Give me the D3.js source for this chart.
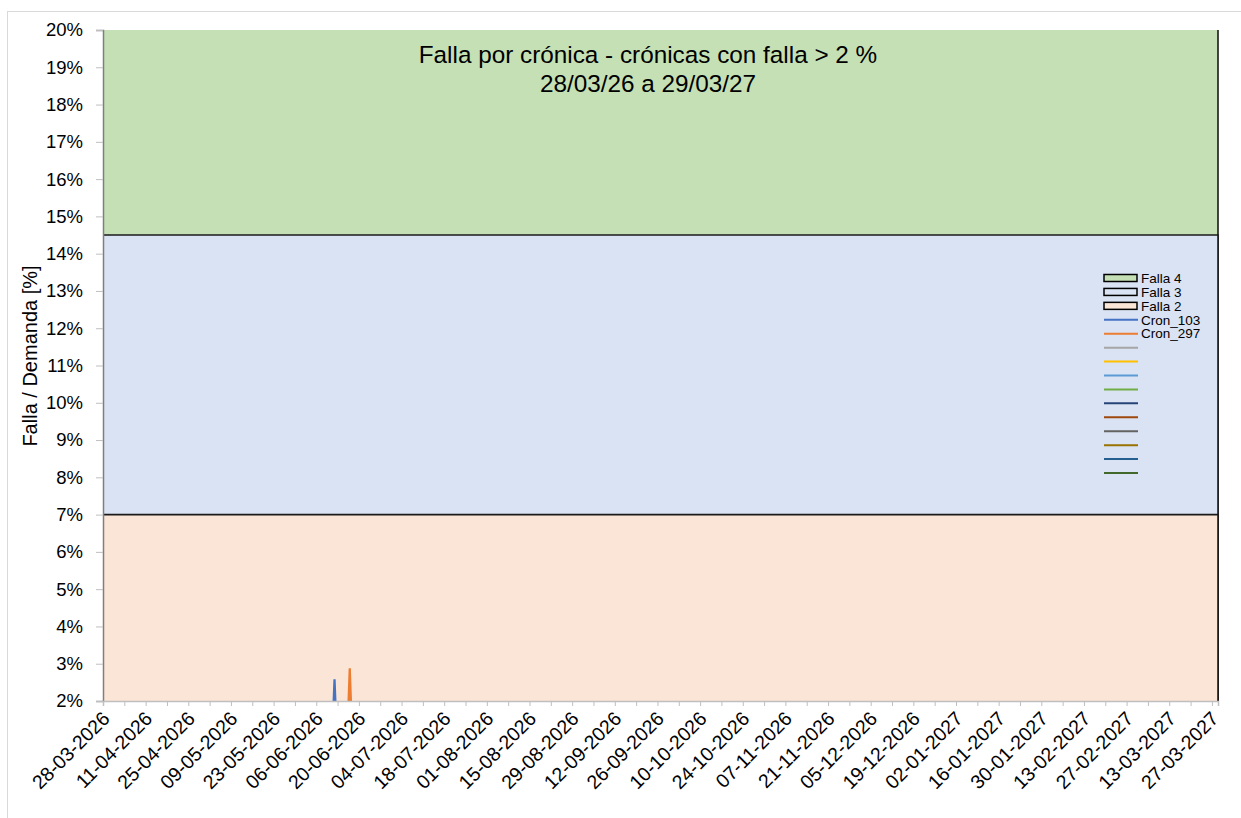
<!DOCTYPE html>
<html>
<head>
<meta charset="utf-8">
<script src="https://cdn.jsdelivr.net/npm/d3@7"></script>
<style>
  body { margin: 0; background: #fff; }
  text { font-family: "Liberation Sans", Arial, sans-serif; fill: #000; }
</style>
</head>
<body>
<svg id="chart" width="1241" height="818"></svg>
<script>
// bandas de falla (limite superior en %)
var bandNames = ["Falla 4", "Falla 3", "Falla 2"]
var bandTops = [25, 14.5, 7]
var bandColors = ["#C5E0B4", "#DAE3F3", "#FBE5D6"]

// cronicas con falla > 2 %
var cronNames = ["Cron_103", "Cron_297"]
var cronDates = [
  ["11-06-2026", "12-06-2026", "13-06-2026"],
  ["16-06-2026", "17-06-2026", "18-06-2026"]
]
var cronValues = [
  [0.5, 2.58, 0.4],
  [0.6, 2.88, 0.5]
]
// colores de serie (las sin nombre quedan vacias en la leyenda)
var lineColors = ["#4472C4", "#ED7D31", "#A5A5A5", "#FFC000", "#5B9BD5", "#70AD47",
  "#264478", "#9E480E", "#636363", "#997300", "#255E91", "#43682B"]

var xTickLabels = ["28-03-2026", "11-04-2026", "25-04-2026", "09-05-2026", "23-05-2026",
  "06-06-2026", "20-06-2026", "04-07-2026", "18-07-2026", "01-08-2026", "15-08-2026",
  "29-08-2026", "12-09-2026", "26-09-2026", "10-10-2026", "24-10-2026", "07-11-2026",
  "21-11-2026", "05-12-2026", "19-12-2026", "02-01-2027", "16-01-2027", "30-01-2027",
  "13-02-2027", "27-02-2027", "13-03-2027", "27-03-2027"]
var yTicks = [2, 3, 4, 5, 6, 7, 8, 9, 10, 11, 12, 13, 14, 15, 16, 17, 18, 19, 20]
var dateStart = "28-03-2026", dateEnd = "29-03-2027"

var parse = d3.timeParse("%d-%m-%Y")
var mLeft = 103, mRight = 1218, mTop = 30, mBottom = 701

var svg = d3.select("#chart")
// borde exterior del grafico
svg.append("rect").attr("x", 7.5).attr("y", 11.5).attr("width", 1260).attr("height", 820)
  .attr("fill", "#fff").attr("stroke", "#D9D9D9")

var x = d3.scaleTime().domain([parse(dateStart), parse(dateEnd)]).range([mLeft, mRight])
var y = d3.scaleLinear().domain([2, 20]).range([mBottom, mTop])

svg.append("clipPath").attr("id", "clip")
  .append("rect").attr("x", mLeft).attr("y", mTop).attr("width", mRight - mLeft + 1.5).attr("height", mBottom - mTop)

var plot = svg.append("g").attr("clip-path", "url(#clip)")

// bandas: cada una va de 0 a su tope
bandTops.forEach(function (t, i) {
  var pts = [{d: x.domain()[0], v: t}, {d: x.domain()[1], v: t}]
  var area = d3.area().x(function (p) { return x(p.d) }).y0(y(0)).y1(function (p) { return y(p.v) })
  plot.append("path").datum(pts).attr("d", area)
    .attr("fill", bandColors[i]).attr("stroke", "#1a1a1a").attr("stroke-width", 1.6)
})

// lineas de cronicas
var line = d3.line().x(function (p) { return x(p.d) }).y(function (p) { return y(p.v) })
cronNames.forEach(function (n, i) {
  var pts = cronDates[i].map(function (d, j) { return {d: parse(d), v: cronValues[i][j]} })
  plot.append("path").datum(pts).attr("d", line)
    .attr("fill", "none").attr("stroke", lineColors[i]).attr("stroke-width", 2.25)
})

// eje Y
var yAxis = svg.append("g").attr("transform", "translate(" + mLeft + ",0)")
  .call(d3.axisLeft(y).tickValues(yTicks).tickSize(7).tickPadding(13).tickFormat(function (d) { return d + "%" }))
yAxis.select(".domain").attr("stroke", "#7F7F7F").attr("stroke-width", 1.5)
yAxis.selectAll(".tick line").attr("stroke", "#BFBFBF")
yAxis.selectAll(".tick text").style("font-size", "18.5px").attr("fill", "#000")

// eje X
var xAxis = svg.append("g").attr("transform", "translate(0," + mBottom + ")")
  .call(d3.axisBottom(x).tickValues(d3.timeDay.range(parse(dateStart), parse(dateEnd), 7)).tickSize(5).tickFormat(""))
xAxis.select(".domain").attr("stroke", "#BFBFBF").attr("stroke-width", 1.5)
xAxis.selectAll(".tick line").attr("stroke", "#BFBFBF")

svg.append("g").selectAll("text").data(xTickLabels).join("text")
  .attr("transform", function (d) { return "translate(" + (x(parse(d)) + 3) + "," + (mBottom + 14) + ") rotate(-45)" })
  .attr("text-anchor", "end").attr("dy", "0.35em")
  .style("font-size", "19.5px")
  .text(function (d) { return d })

// titulo del eje
svg.append("text").attr("transform", "translate(37,356) rotate(-90)")
  .attr("text-anchor", "middle").style("font-size", "20px").text("Falla / Demanda [%]")

// titulo
svg.append("text").attr("x", 648).attr("y", 63).attr("text-anchor", "middle")
  .style("font-size", "24.3px").text("Falla por crónica - crónicas con falla > 2 %")
svg.append("text").attr("x", 648).attr("y", 92).attr("text-anchor", "middle")
  .style("font-size", "24.3px").text("28/03/26 a 29/03/27")

// leyenda
var lg = svg.append("g").attr("transform", "translate(1104,278)")
var step = 13.93
bandNames.forEach(function (n, i) {
  lg.append("rect").attr("x", 0).attr("y", i * step - 3.5).attr("width", 33).attr("height", 7)
    .attr("fill", bandColors[i]).attr("stroke", "#000").attr("stroke-width", 1.5)
  lg.append("text").attr("x", 37).attr("y", i * step).attr("dy", "0.35em")
    .style("font-size", "13.5px").text(n)
})
lineColors.forEach(function (c, i) {
  var k = i + bandNames.length
  lg.append("line").attr("x1", 0).attr("x2", 34).attr("y1", k * step).attr("y2", k * step)
    .attr("stroke", c).attr("stroke-width", 2)
  if (cronNames[i]) {
    lg.append("text").attr("x", 37).attr("y", k * step).attr("dy", "0.35em")
      .style("font-size", "13.5px").text(cronNames[i])
  }
})
</script>
</body>
</html>
